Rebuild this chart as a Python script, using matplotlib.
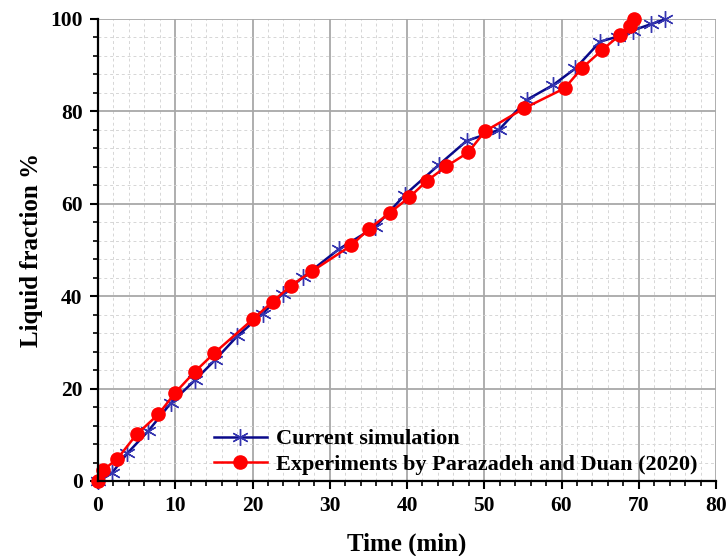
"""
Liquid fraction vs time: current simulation against experiments.
"""

import matplotlib.pyplot as plt
from matplotlib.ticker import MultipleLocator

# Current simulation
SIM_TIME = [0, 1.8, 3.8, 6.5, 9.4, 12.6, 15.1, 18.0, 21.3, 23.9, 26.6, 31.2, 35.9,
            39.7, 44.1, 47.7, 51.9, 55.5, 58.9, 61.8, 65.0, 67.3, 69.2, 71.6, 73.4]
SIM_FRAC = [0, 1.7, 6.0, 10.8, 16.8, 21.9, 26.1, 31.3, 36.2, 40.5, 44.2, 50.2, 55.0,
            61.9, 68.4, 73.6, 76.0, 82.5, 85.7, 89.3, 95.1, 96.2, 97.5, 98.9, 99.9]

# Experiments by Parazadeh and Duan (2020)
EXP_TIME = [0, 0.7, 2.5, 5.0, 7.8, 10.0, 12.5, 15.0, 20.1, 22.6, 25.0, 27.7, 32.8,
            35.1, 37.8, 40.3, 42.6, 45.1, 47.9, 50.1, 55.2, 60.4, 62.6, 65.2, 67.6,
            68.9, 69.4]
EXP_FRAC = [0, 2.4, 4.8, 10.1, 14.4, 19.1, 23.6, 27.6, 35.1, 38.8, 42.3, 45.4, 51.0,
            54.6, 58.1, 61.4, 65.0, 68.1, 71.1, 75.7, 80.7, 85.0, 89.3, 93.2, 96.6,
            98.4, 100.0]

LABELS = ['Current simulation', 'Experiments by Parazadeh and Duan (2020)']

plt.rcParams['font.family'] = ['Liberation Serif', 'DejaVu Serif']
plt.rcParams['font.weight'] = 'bold'

fig = plt.figure(figsize=(7.28, 5.56), dpi=100)
ax = fig.add_axes([0.1346, 0.1349, 0.849, 0.831])

ax.plot(SIM_TIME, SIM_FRAC, color='#0a0a8a', linewidth=1.8,
        marker=(6, 2, 0), markersize=12, markeredgewidth=1.0,
        markeredgecolor='#3535b0', label=LABELS[0], zorder=3, clip_on=False)
ax.plot(EXP_TIME, EXP_FRAC, color='#ff0000', linewidth=1.8,
        marker='o', markersize=9.5, markeredgecolor='#ff0000',
        label=LABELS[1], zorder=4, clip_on=False)

ax.set_xlim(0, 80)
ax.set_ylim(0, 100)
ax.xaxis.set_major_locator(MultipleLocator(10))
ax.xaxis.set_minor_locator(MultipleLocator(2))
ax.yaxis.set_major_locator(MultipleLocator(20))
ax.yaxis.set_minor_locator(MultipleLocator(4))

ax.grid(which='major', color='#a8a8a8', linewidth=1.3, linestyle='-', zorder=0)
ax.grid(which='minor', color='#d6d6d6', linewidth=0.7, linestyle=(0, (3, 3)), zorder=0)
ax.set_axisbelow(True)

for side in ['top', 'right']:
    ax.spines[side].set_visible(False)
for side in ['left', 'bottom']:
    ax.spines[side].set_linewidth(1.6)
    ax.spines[side].set_zorder(5)

ax.tick_params(which='major', direction='out', length=6, width=1.5, labelsize=15.5, pad=5)
ax.tick_params(which='minor', direction='out', length=3.5, width=1.2)
for lbl in ax.get_xticklabels() + ax.get_yticklabels():
    lbl.set_fontweight('bold')

ax.set_xlabel('Time (min)', fontsize=18, fontweight='bold', labelpad=12)
ax.set_ylabel('Liquid fraction %', fontsize=18, fontweight='bold', labelpad=5)

ax.legend(loc='lower left', bbox_to_anchor=(0.155, -0.03), frameon=False,
          prop={'size': 16, 'weight': 'bold'}, handlelength=2.4,
          handletextpad=0.4, labelspacing=0.22)

plt.savefig('out.png', dpi=100)
plt.close()
